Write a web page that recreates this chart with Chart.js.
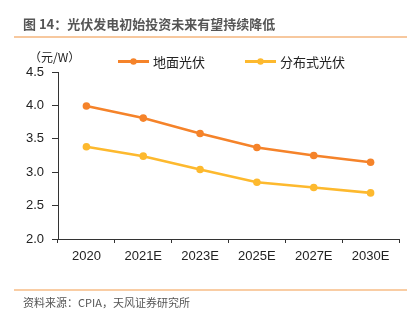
<!DOCTYPE html>
<html>
<head>
<meta charset="utf-8">
<script src="https://cdn.jsdelivr.net/npm/chart.js@4/dist/chart.umd.min.js"></script>
<style>
html,body{margin:0;padding:0;background:#fff;}
#wrap{position:relative;width:420px;height:321px;}
</style>
</head>
<body>
<div id="wrap"><canvas id="costChart" width="420" height="321"></canvas></div>
<script>
// initial investment cost, yuan per watt
const years = ["2020","2021E","2023E","2025E","2027E","2030E"];
const groundPV = [3.99,3.81,3.58,3.37,3.25,3.15];
const distributedPV = [3.38,3.24,3.04,2.85,2.77,2.69];
const seriesNames = ["地面光伏","分布式光伏"];
const seriesColors = ["#F5832A","#FDB92E"];

const FONT = '"Liberation Sans", Arial, "Noto Sans CJK SC", sans-serif';
const CJK = '"Noto Sans CJK SC", "Liberation Sans", sans-serif';

/* -----------------------------
   title, rules, unit, legend, source
------------------------------ */
const decor = {
id:"decor",
afterDraw(chart){
const ctx = chart.ctx;
ctx.save();

ctx.fillStyle="#555";
ctx.font="bold 13px "+CJK;
ctx.textBaseline="middle";
ctx.textAlign="left";
ctx.fillText("图 14：光伏发电初始投资未来有望持续降低",23,24);

ctx.strokeStyle="#F0913F";
ctx.lineWidth=1.2;
ctx.beginPath();ctx.moveTo(14,37);ctx.lineTo(407,37);ctx.stroke();

ctx.strokeStyle="#F9CDA4";
ctx.lineWidth=2;
ctx.beginPath();ctx.moveTo(14,290);ctx.lineTo(407,290);ctx.stroke();

ctx.fillStyle="#555";
ctx.font="11px "+CJK;
ctx.fillText("资料来源：CPIA，天风证券研究所",23,303);

// unit label with full-width brackets
ctx.fillStyle="#222";
ctx.font="12px "+CJK;
ctx.fillText("（元/W）",29,57);

// legend: line with a dot in the middle
const items=[{x:118,tx:153},{x:245,tx:280}];
chart.data.datasets.forEach((ds,i)=>{
const it=items[i];
ctx.strokeStyle=ds.borderColor;
ctx.lineWidth=3;
ctx.beginPath();ctx.moveTo(it.x,61.5);ctx.lineTo(it.x+31,61.5);ctx.stroke();
ctx.fillStyle=ds.borderColor;
ctx.beginPath();ctx.arc(it.x+15.5,61.5,3.2,0,Math.PI*2);ctx.fill();
ctx.fillStyle="#222";
ctx.font="13px "+CJK;
ctx.fillText(ds.label,it.tx,62);
});

ctx.restore();
}
};

new Chart(document.getElementById("costChart"),{
type:"line",
data:{
labels:years,
datasets:[groundPV,distributedPV].map((d,i)=>({
label:seriesNames[i],
data:d,
borderColor:seriesColors[i],
backgroundColor:seriesColors[i],
borderWidth:2.6,
pointRadius:3.8,
pointHoverRadius:3.8,
pointBorderWidth:0,
tension:0
}))
},
options:{
responsive:false,
animation:false,
devicePixelRatio:1,
layout:{padding:{top:72,right:21,bottom:52,left:0}},
plugins:{legend:{display:false},tooltip:{enabled:false}},
scales:{
x:{
offset:true,
grid:{offset:true,drawOnChartArea:false,drawTicks:true,tickLength:4,color:"#333",lineWidth:1},
border:{display:true,color:"#333",width:1},
ticks:{color:"#222",font:{family:FONT,size:13},padding:6,maxRotation:0},
afterFit:s=>{s.height=30;}
},
y:{
min:2.0,max:4.5,
grid:{drawOnChartArea:false,drawTicks:true,tickLength:6,color:"#333",lineWidth:1},
border:{display:true,color:"#333",width:1},
ticks:{stepSize:0.5,color:"#222",font:{family:FONT,size:13},padding:8,
callback:v=>v.toFixed(1)},
afterFit:s=>{s.width=58;}
}
}
},
plugins:[decor]
});
</script>
</body>
</html>
